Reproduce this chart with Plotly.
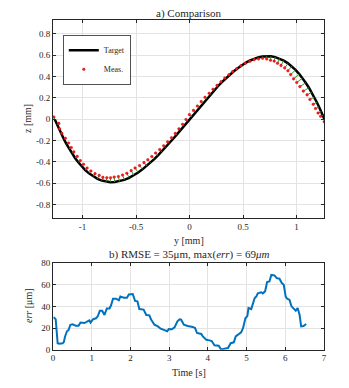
import plotly.graph_objects as go

# a) target path (y, z) in mm
target_y = [-1.26, -1.24, -1.22, -1.20, -1.175, -1.15, -1.125, -1.10, -1.07, -1.04,
            -1.01, -0.975, -0.94, -0.90, -0.86, -0.82, -0.78, -0.74,
            -0.70, -0.655, -0.61, -0.565, -0.52, -0.48, -0.44, -0.40, -0.365, -0.33,
            -0.295, -0.26, -0.225, -0.19, -0.155, -0.12, -0.085, -0.05, -0.015, 0.02,
            0.055, 0.09, 0.125, 0.16, 0.195, 0.23, 0.265, 0.30, 0.335, 0.37,
            0.405, 0.44, 0.48, 0.52, 0.56, 0.60, 0.64, 0.68, 0.72,
            0.76, 0.80, 0.84, 0.88, 0.92, 0.955, 0.99, 1.025, 1.055, 1.085,
            1.115, 1.14, 1.165, 1.19, 1.21, 1.23, 1.245, 1.26]
target_z = [0.0, -0.0475, -0.0927, -0.1357, -0.1863, -0.2335, -0.2775, -0.3182, -0.3628, -0.4031,
            -0.4391, -0.4757, -0.5069, -0.5361, -0.5586, -0.5749, -0.5851, -0.5895,
            -0.5885, -0.5813, -0.5680, -0.5489, -0.5247, -0.4990, -0.4698, -0.4374, -0.4066, -0.3738,
            -0.3391, -0.3027, -0.2649, -0.2258, -0.1856, -0.1446, -0.1029, -0.0607, -0.0182, 0.0243,
            0.0668, 0.1089, 0.1505, 0.1914, 0.2315, 0.2704, 0.3080, 0.3442, 0.3786, 0.4112,
            0.4417, 0.4698, 0.4990, 0.5247, 0.5465, 0.5642, 0.5775, 0.5861, 0.5897,
            0.5880, 0.5807, 0.5675, 0.5482, 0.5223, 0.4942, 0.4607, 0.4216, 0.3835, 0.3411,
            0.2941, 0.2515, 0.2056, 0.1563, 0.1145, 0.0704, 0.0359, 0.0]

# measured points, same samples
meas_y = [-1.268, -1.2216, -1.215, -1.194, -1.1608, -1.1303, -1.1052, -1.0815, -1.0496, -1.0207,
          -0.9905, -0.9576, -0.922, -0.8832, -0.8443, -0.810, -0.7732, -0.7383,
          -0.7042, -0.6652, -0.6265, -0.5859, -0.5456, -0.5091, -0.4675, -0.4259, -0.3899, -0.3529,
          -0.3176, -0.2789, -0.2417, -0.2054, -0.169, -0.1334, -0.0996, -0.065, -0.0335, -0.0016,
          0.0365, 0.0731, 0.1086, 0.1443, 0.1833, 0.2192, 0.2567, 0.2936, 0.3293, 0.3667,
          0.4026, 0.4397, 0.4797, 0.5208, 0.5627, 0.6029, 0.6438, 0.6825, 0.7207,
          0.7559, 0.7905, 0.822, 0.8545, 0.8891, 0.9187, 0.9447, 0.972, 1.0013, 1.0306,
          1.0629, 1.0978, 1.1243, 1.1554, 1.1769, 1.2007, 1.225, 1.258]
meas_z = [0.02, -0.0396, -0.0904, -0.1329, -0.179, -0.2227, -0.2658, -0.3064, -0.3484, -0.3879,
          -0.4219, -0.4577, -0.4848, -0.5101, -0.5262, -0.5445, -0.5477, -0.5485,
          -0.5417, -0.537, -0.5224, -0.5057, -0.4817, -0.4566, -0.4342, -0.4069, -0.3792, -0.3501,
          -0.3169, -0.2849, -0.2498, -0.2122, -0.1735, -0.1333, -0.0907, -0.0483, -0.003, 0.0421,
          0.0821, 0.123, 0.1644, 0.205, 0.2418, 0.2803, 0.3159, 0.3505, 0.3846, 0.4149,
          0.4446, 0.4702, 0.4994, 0.5234, 0.5411, 0.5567, 0.5635, 0.5698, 0.5627,
          0.5512, 0.5434, 0.523, 0.5029, 0.4799, 0.4529, 0.417, 0.3774, 0.3435, 0.3046,
          0.2624, 0.2277, 0.1842, 0.1393, 0.0991, 0.0575, 0.0274, -0.024]

# b) tracking error over time
err_t = [0.02, 0.07, 0.12, 0.16, 0.25, 0.28, 0.31, 0.36, 0.40, 0.45, 0.51, 0.59, 0.66, 0.71,
         0.81, 0.90, 0.94, 0.97, 1.03, 1.11, 1.16, 1.21, 1.27, 1.33, 1.39, 1.46, 1.50, 1.55,
         1.63, 1.70, 1.74, 1.83, 1.91, 1.96, 2.06, 2.12, 2.18, 2.23, 2.34, 2.41, 2.49, 2.53,
         2.62, 2.71, 2.78, 2.88, 2.95, 2.99, 3.07, 3.14, 3.21, 3.27, 3.31, 3.38, 3.48, 3.61,
         3.67, 3.72, 3.83, 3.87, 3.96, 4.04, 4.10, 4.17, 4.28, 4.34, 4.43, 4.52, 4.59, 4.67,
         4.72, 4.79, 4.86, 4.91, 4.97, 5.02, 5.05, 5.12, 5.16, 5.21, 5.25, 5.29, 5.38, 5.42,
         5.48, 5.53, 5.59, 5.64, 5.72, 5.78, 5.85, 5.91, 5.96, 6.01, 6.05, 6.11, 6.16, 6.22,
         6.27, 6.32, 6.37, 6.41, 6.47, 6.54]
err_um = [30, 28, 6, 5.5, 6, 7, 12, 17, 18, 23, 23.4, 22, 22, 25,
          24.6, 26, 27, 25, 28, 29, 31, 36, 36, 32, 38, 38, 41, 47,
          47, 45.5, 49, 48, 48, 51, 51.4, 45, 44.6, 37.5, 37, 32, 31.7, 28,
          23, 21.5, 19.4, 18, 17, 19, 18.8, 20.6, 26, 28, 27.7, 23, 21.8, 21,
          20, 15.4, 14.5, 12.3, 9.2, 8.6, 8, 4, 3.7, 0.3, 0.6, 1.5, 6, 6.8,
          12.3, 14.5, 16, 20, 29, 31, 38.5, 37.5, 41.5, 47.7, 49, 52, 53, 52,
          54, 62.5, 63, 69, 68.6, 66, 65.5, 61.5, 60, 49, 47, 46, 40, 37.5,
          36, 38.5, 32, 21.5, 21.8, 23.7]

seg_x, seg_y = [], []
for my, mz, ty, tz in zip(meas_y, meas_z, target_y, target_z):
    seg_x += [my, ty, None]
    seg_y += [mz, tz, None]

FONT = "'Liberation Serif', 'DejaVu Serif', serif"
AX = "#262626"
W, H = 349, 388

fig = go.Figure()
fig.add_trace(go.Scatter(x=target_y, y=target_z, mode="lines", name="Target",
                         line=dict(color="black", width=2.5), xaxis="x", yaxis="y"))
fig.add_trace(go.Scatter(x=seg_x, y=seg_y, mode="lines", showlegend=False,
                         line=dict(color="#2e9a2e", width=1), xaxis="x", yaxis="y"))
fig.add_trace(go.Scatter(x=meas_y, y=meas_z, mode="markers", name="Meas.",
                         marker=dict(color="#ff1a1a", size=2.6,
                                     line=dict(color="#c00000", width=0.4)),
                         xaxis="x", yaxis="y"))
fig.add_trace(go.Scatter(x=err_t, y=err_um, mode="lines", showlegend=False,
                         line=dict(color="#0072BD", width=2), xaxis="x2", yaxis="y2"))

axis_style = dict(showline=True, linecolor=AX, linewidth=0.8, mirror="ticks",
                  ticks="inside", ticklen=3, tickcolor=AX, showgrid=True,
                  gridcolor="#e3e3e3", gridwidth=0.8, zeroline=False,
                  tickfont=dict(family=FONT, size=9, color=AX), automargin=False)

fig.update_layout(
    width=W, height=H,
    margin=dict(l=0, r=0, t=0, b=0),
    paper_bgcolor="white", plot_bgcolor="white",
    font=dict(family=FONT, color=AX),
    xaxis=dict(domain=[45 / W, 316 / W], range=[-1.276, 1.256],
               tickvals=[-1, -0.5, 0, 0.5, 1], ticktext=["-1", "-0.5", "0", "0.5", "1"],
               anchor="y", **axis_style),
    yaxis=dict(domain=[1 - 210 / H, 1 - 12 / H], range=[-0.925, 0.928],
               tickvals=[-0.8, -0.6, -0.4, -0.2, 0, 0.2, 0.4, 0.6, 0.8],
               ticktext=["-0.8", "-0.6", "-0.4", "-0.2", "0", "0.2", "0.4", "0.6", "0.8"],
               anchor="x", **axis_style),
    xaxis2=dict(domain=[45 / W, 316 / W], range=[0, 7], dtick=1, anchor="y2", **axis_style),
    yaxis2=dict(domain=[1 - 341.7 / H, 1 - 255 / H], range=[0, 80], dtick=20,
                anchor="x2", **axis_style),
    legend=dict(x=55 / W, y=1 - 27 / H, xanchor="left", yanchor="top",
                bgcolor="white", bordercolor=AX, borderwidth=0.8,
                font=dict(family=FONT, size=8, color=AX), itemwidth=30,
                tracegroupgap=0, itemsizing="trace"),
    showlegend=True,
)

cx = (45 + 316) / 2 / W
labels = [
    ("a) Comparison", cx, 1 - 6 / H, 0, 11),
    ("y [mm]", cx, 1 - 232 / H, 0, 10),
    ("b) RMSE = 35μm, max(<i>err</i>) = 69<i>μm</i>", cx, 1 - 247 / H, 0, 11),
    ("Time [s]", cx, 1 - 364 / H, 0, 10),
    ("z [mm]", 19 / W, 1 - 111 / H, -90, 10),
    ("<i>err</i> [μm]", 20 / W, 1 - 298 / H, -90, 10),
]
for text, x, y, ang, size in labels:
    fig.add_annotation(text=text, x=x, y=y, xref="paper", yref="paper",
                       xanchor="center", yanchor="middle", showarrow=False,
                       textangle=ang, font=dict(family=FONT, size=size, color=AX))

fig.write_html("out.html")
